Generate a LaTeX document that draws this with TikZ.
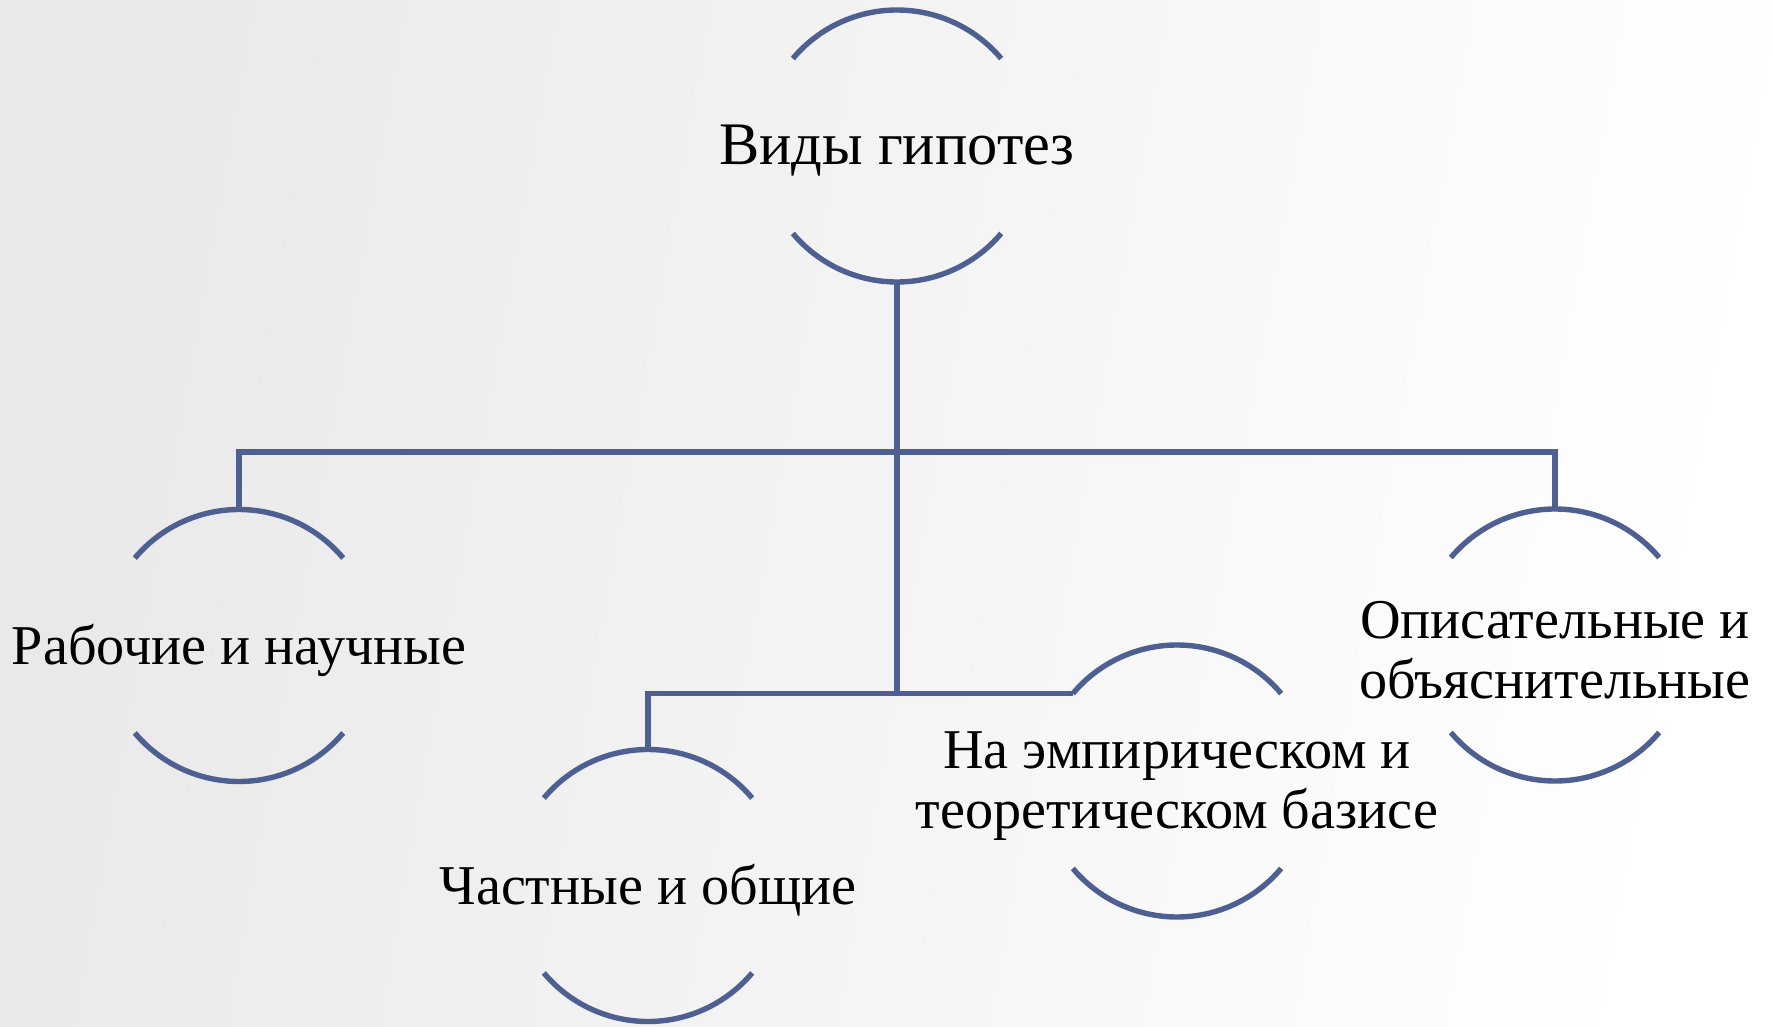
\documentclass[tikz,border=0pt]{standalone}
\usepackage{fontspec}
\setmainfont{Liberation Serif}
\definecolor{lineblue}{RGB}{78,95,146}
\definecolor{bggray}{RGB}{233,233,233}
\tikzset{
  ring/.style={circle, draw=none, inner sep=0pt, outer sep=0pt, minimum size=136pt},
  txt/.style={font=\fontsize{28.1}{30}\selectfont, text=black, align=center, inner sep=0pt, yshift=-2.5pt},
  bigtxt/.style={txt, font=\fontsize{30.2}{32}\selectfont},
  arcline/.style={draw=lineblue, line width=2.7pt},
  conn/.style={draw=lineblue, line width=2.9pt}
}
\newcommand{\ringarcs}[1]{%
  \draw[arcline] (#1.140) arc[start angle=140, end angle=40, radius=68pt];
  \draw[arcline] (#1.220) arc[start angle=220, end angle=320, radius=68pt];
}
\begin{document}
\begin{tikzpicture}[x=0.5pt, y=-0.5pt]
\useasboundingbox (0,0) rectangle (1773,1027);
\shade[left color=bggray, right color=white, shading angle=80] (0,0) rectangle (1773,1027);

% shapes
\node[ring] (top) at (897,146) {};
\node[ring] (work) at (239,645.5) {};
\node[ring] (desc) at (1555,645) {};
\node[ring] (part) at (648,885.5) {};
\node[ring] (emp) at (1177,781) {};

\foreach \n in {top,work,desc,part,emp}{\ringarcs{\n}}

% texts
\node[bigtxt] (topT) at (top.center) {Виды гипотез};
\node[txt] (workT) at (work.center) {Рабочие и научные};
\node[txt] (descT) at (desc.center) {Описательные и\\объяснительные};
\node[txt] (partT) at (part.center) {Частные и общие};
\node[txt] (empT) at (emp.center) {На эмпирическом и\\теоретическом базисе};

% connectors
\coordinate (bus) at (897,452);
\coordinate (bus2) at (897,694);
\draw[conn] (top.south) -- (bus2);
\draw[conn] (work.north) |- (bus) -| (desc.north);
\draw[conn] (part.north) |- (emp.140);
\end{tikzpicture}
\end{document}
